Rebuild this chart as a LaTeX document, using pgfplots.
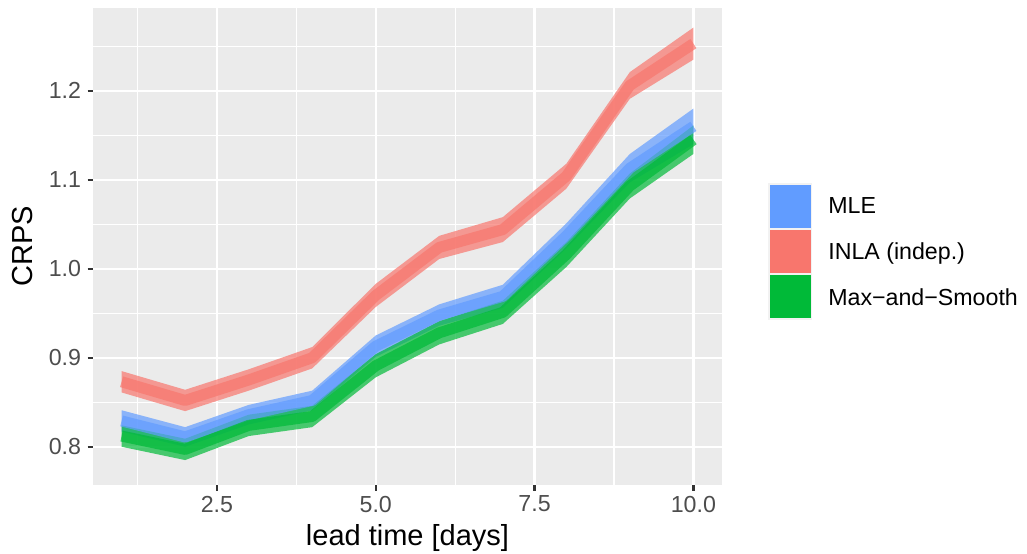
\documentclass[border=0pt]{standalone}
\usepackage{pgfplots}
\pgfplotsset{compat=1.18}
\usepackage{pgfplotstable}
\usepgfplotslibrary{fillbetween}
\usepackage{fontspec}
\setmainfont{Liberation Sans}
\definecolor{cmle}{HTML}{619CFF}
\definecolor{cinla}{HTML}{F8766D}
\definecolor{cms}{HTML}{00BA38}
\definecolor{panelbg}{HTML}{EBEBEB}
\definecolor{ticklab}{HTML}{4D4D4D}
\definecolor{tickc}{HTML}{333333}
\definecolor{keybg}{HTML}{F2F2F2}

\pgfplotstableread{
x c lo hi
1 0.829 0.817 0.841
2 0.811 0.800 0.822
3 0.836 0.825 0.847
4 0.852 0.841 0.863
5 0.913 0.901 0.925
6 0.948 0.936 0.960
7 0.969 0.956 0.982
8 1.037 1.023 1.051
9 1.113 1.097 1.129
10 1.160 1.140 1.180
}\mle
\pgfplotstableread{
x c lo hi
1 0.873 0.861 0.885
2 0.852 0.840 0.864
3 0.875 0.863 0.887
4 0.900 0.888 0.912
5 0.970 0.957 0.983
6 1.024 1.011 1.037
7 1.044 1.030 1.058
8 1.104 1.090 1.118
9 1.206 1.191 1.221
10 1.253 1.235 1.271
}\inla
\pgfplotstableread{
x c lo hi
1 0.812 0.800 0.824
2 0.797 0.785 0.809
3 0.824 0.812 0.836
4 0.834 0.822 0.846
5 0.891 0.878 0.904
6 0.928 0.915 0.941
7 0.951 0.938 0.964
8 1.016 1.002 1.030
9 1.093 1.079 1.107
10 1.145 1.129 1.161
}\ms

\newcommand\keyimg[1]{\fill[keybg, draw=none] (0pt,-10.75pt) rectangle (22pt,11.95pt);
  \fill[#1, draw=none] (0.6pt,-10.15pt) rectangle (21.4pt,11.35pt);
  \path[draw=none, fill=none] (0pt,0pt) rectangle (30pt,0pt);}

\begin{document}
\begin{tikzpicture}
\begin{axis}[
  at={(46.5pt,34pt)}, anchor=south west,
  scale only axis, width=314.5pt, height=238.5pt,
  xmin=0.55, xmax=10.45, ymin=0.757, ymax=1.293,
  axis background/.style={fill=panelbg},
  axis line style={draw=none},
  xtick={2.5,5,7.5,10}, xticklabels={2.5,5.0,7.5,10.0},
  minor xtick={1.25,3.75,6.25,8.75},
  ytick={0.8,0.9,1.0,1.1,1.2}, yticklabels={0.8,0.9,1.0,1.1,1.2},
  minor ytick={0.85,0.95,1.05,1.15,1.25},
  grid=both,
  major grid style={white, line width=1.1pt},
  minor grid style={white, line width=0.55pt},
  tick pos=left, tick align=outside,
  major tick length=2.75pt, minor tick length=0pt,
  major tick style={tickc, line width=1.1pt},
  ticklabel style={font=\fontsize{11.6}{13}\selectfont, text=ticklab},
  xticklabel style={inner ysep=2.5pt},
  yticklabel style={inner xsep=3pt},
  /pgf/number format/assume math mode=true,
  xlabel={lead time [days]}, ylabel={CRPS},
  label style={font=\fontsize{14.5}{16}\selectfont, text=black},
  xlabel style={at={(axis description cs:0.5,0)}, anchor=base, yshift=-30pt},
  ylabel style={at={(axis description cs:-0.1121,0.5)}, anchor=center},
  legend style={at={(1.073,0.6331)}, anchor=north west, draw=none, fill=none,
    font=\fontsize{11.6}{13}\selectfont, row sep=0pt, inner sep=0pt,
    nodes={inner sep=0pt, text=black}},
  legend cell align=left,
]
\addplot[draw=none, name path=mU, forget plot] table[x=x,y=hi]{\mle};
\addplot[draw=none, name path=mL, forget plot] table[x=x,y=lo]{\mle};
\addplot[draw=none, name path=iU, forget plot] table[x=x,y=hi]{\inla};
\addplot[draw=none, name path=iL, forget plot] table[x=x,y=lo]{\inla};
\addplot[draw=none, name path=sU, forget plot] table[x=x,y=hi]{\ms};
\addplot[draw=none, name path=sL, forget plot] table[x=x,y=lo]{\ms};
\addplot[fill=cmle, fill opacity=0.7, draw=none, forget plot] fill between[of=mU and mL];
\addplot[fill=cinla, fill opacity=0.7, draw=none, forget plot] fill between[of=iU and iL];
\addplot[fill=cms, fill opacity=0.7, draw=none, forget plot] fill between[of=sU and sL];
\addplot[cmle, line width=5.5pt, draw opacity=0.7, line join=round, forget plot] table[x=x,y=c]{\mle};
\addplot[cinla, line width=5.5pt, draw opacity=0.7, line join=round, forget plot] table[x=x,y=c]{\inla};
\addplot[cms, line width=5.5pt, draw opacity=0.7, line join=round, forget plot] table[x=x,y=c]{\ms};
\addlegendimage{legend image code/.code={\keyimg{cmle}}}
\addlegendimage{legend image code/.code={\keyimg{cinla}}}
\addlegendimage{legend image code/.code={\keyimg{cms}}}
\legend{MLE, INLA (indep.), Max−and−Smooth}
\end{axis}
\pgfresetboundingbox
\path[use as bounding box] (0pt,0pt) rectangle (513.5pt,276.5pt);
\end{tikzpicture}
\end{document}
